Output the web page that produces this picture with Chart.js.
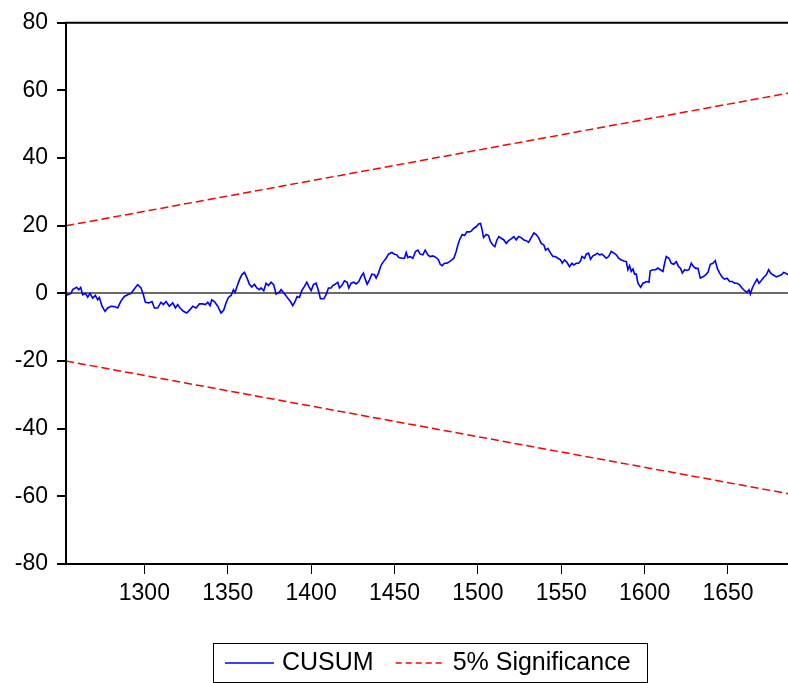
<!DOCTYPE html>
<html>
<head>
<meta charset="utf-8">
<title>CUSUM</title>
<script src="https://cdn.jsdelivr.net/npm/chart.js@4.4.1/dist/chart.umd.min.js"></script>
<style>
  html, body { margin: 0; padding: 0; background: #fff; }
  canvas { display: block; }
</style>
</head>
<body>
<canvas id="cusumChart" width="788" height="683"></canvas>
<script>
const cusumObs = [
  1253, 1254, 1256, 1257, 1259.4, 1260.6, 1261.8, 1263, 1264.6, 1266, 1267.4, 1269, 1270.6, 1272, 1273,
  1274.6, 1276.4, 1278, 1280, 1282, 1284, 1286, 1288, 1290, 1292, 1293.6, 1296, 1298, 1299.4, 1300.6,
  1302.6, 1304.6, 1306, 1308, 1310, 1311.4, 1313, 1315, 1317, 1318.6, 1320, 1321.4, 1323.4, 1325.4,
  1327.4, 1329, 1331, 1333, 1335, 1336.6, 1338, 1339.4, 1340.4, 1342, 1344, 1346, 1347.6, 1349, 1350.4,
  1352, 1353.4, 1354.4, 1355.6, 1357, 1358.4, 1360, 1361.6, 1363, 1364.4, 1366, 1367.4, 1369, 1370,
  1371.6, 1373, 1374.4, 1376, 1377.6, 1379, 1381, 1382, 1384, 1386, 1387.6, 1389, 1390.4, 1391.6, 1393,
  1394.4, 1396, 1397.4, 1398.6, 1400, 1401.4, 1403, 1404.4, 1405.6, 1407.6, 1409, 1410.4, 1412, 1413,
  1414.4, 1416, 1417, 1418.4, 1420, 1421.6, 1422.6, 1424, 1425.6, 1427, 1428.6, 1430, 1431.4, 1432.6,
  1433.6, 1435, 1436.4, 1438, 1439, 1440.4, 1442, 1443.4, 1445, 1446.4, 1448.4, 1450, 1451.4, 1452.6,
  1454.6, 1456, 1457, 1458, 1459.4, 1461, 1462.6, 1464, 1465.4, 1467, 1468.4, 1470, 1471.4, 1473, 1475,
  1476.4, 1477.4, 1478.6, 1480, 1481.4, 1483, 1484.4, 1485.6, 1487, 1488, 1489, 1490.6, 1492, 1493.4,
  1495, 1496, 1497.4, 1499, 1500.6, 1501.6, 1502.6, 1503.4, 1505, 1506.4, 1507.6, 1509, 1510.2, 1511.4,
  1512.6, 1514, 1515.6, 1517, 1518.4, 1520, 1521.6, 1523, 1524.4, 1526, 1527.6, 1529, 1530.4, 1532,
  1533.6, 1535, 1536.4, 1538, 1539.6, 1540.6, 1542, 1543.6, 1545, 1546.4, 1548, 1549.6, 1550.6, 1552,
  1553.4, 1555, 1556.4, 1557.6, 1559, 1560.4, 1561.6, 1562.4, 1564, 1565, 1566.4, 1567.6, 1569, 1570.4,
  1571.6, 1573, 1574.4, 1575.6, 1577, 1578.4, 1580, 1581.6, 1583, 1584.4, 1586, 1587.6, 1589, 1590,
  1591, 1592, 1593, 1594, 1595, 1596, 1597.6, 1599, 1600.4, 1601, 1602.6, 1603.4, 1605, 1606.6, 1608,
  1609.4, 1611, 1612, 1613, 1614.6, 1616, 1617.4, 1619, 1620.4, 1621.6, 1622.6, 1624, 1625.4, 1626.6,
  1628, 1629.4, 1630.6, 1632, 1633.4, 1635, 1636.6, 1638, 1639.4, 1641, 1642.4, 1643.6, 1645, 1646.6,
  1648, 1649.4, 1651, 1652.6, 1654, 1655.4, 1657, 1658.4, 1660, 1661.4, 1662.6, 1663.4, 1664.6, 1666,
  1667.4, 1668.6, 1670, 1671.4, 1673, 1674.4, 1675.6, 1677, 1679, 1680.6, 1682, 1683.4, 1684.6, 1686
];
const cusumVal = [
  0, -0.4, 0, 1.1, 1.8, 1.1, 1.8, -0.4, 0, -1.1, 0, -1.4, -0.6, -1.9, -1.2,
  -3.8, -5.3, -4.3, -3.8, -3.9, -4.3, -2.2, -0.9, -0.4, 0, 1.1, 2.6, 1.6, -0.4, -2.6,
  -2.8, -2.4, -4.3, -4.3, -2.6, -3.3, -2.4, -3.8, -2.8, -4.3, -3.3, -4.3, -5.3, -5.8,
  -4.8, -3.8, -4.3, -3.1, -3.1, -3.3, -2.6, -3.6, -1.9, -2.4, -3.8, -5.8, -4.9, -2.8, -1.2,
  -0.6, 1.1, 0.3, 2.1, 4.0, 5.5, 6.2, 4.5, 2.7, 1.9, 2.7, 1.6, 1.1, 1.6,
  0.8, 3.0, 2.3, 3.3, 2.5, -0.2, 0.4, 1.1, -0.1, -1.4, -2.4, -3.6, -2.4, -0.9, -1.2,
  0.8, 2.1, 3.3, 2.1, 0.8, 2.6, 3.0, 0.8, -1.6, -1.6, -0.4, 1.6, 1.6, 2.3,
  2.7, 3.3, 1.6, 2.3, 3.7, 3.3, 1.6, 3.0, 3.3, 2.8, 3.5, 5.0, 6.0, 4.0,
  2.7, 4.0, 5.7, 5.5, 4.5, 6.0, 8.4, 9.4, 10.4, 11.6, 12.1, 11.6, 11.4, 10.6,
  10.4, 10.4, 12.1, 10.6, 10.9, 10.4, 12.4, 12.8, 11.6, 11.4, 12.8, 11.4, 10.9, 11.1, 10.6,
  9.9, 8.6, 8.2, 8.9, 8.9, 9.4, 9.9, 10.4, 12.4, 14.3, 15.8, 17.4, 17.1, 18.2,
  18.2, 18.4, 19.2, 19.7, 20.6, 20.7, 18.7, 16.5, 17.4, 17.1, 15.3, 14.3, 13.8, 15.8,
  16.8, 16.3, 15.8, 14.8, 15.6, 16.1, 16.8, 15.8, 16.8, 16.5, 15.8, 15.6, 15.1, 16.5,
  17.9, 17.4, 16.5, 14.8, 14.3, 12.8, 13.3, 11.9, 10.9, 10.9, 10.4, 9.9, 8.9, 9.9,
  9.2, 7.9, 8.9, 8.4, 8.9, 8.9, 9.6, 10.9, 10.4, 11.6, 11.9, 10.1, 11.1, 11.4,
  11.9, 11.4, 11.6, 11.1, 10.4, 10.9, 12.4, 11.9, 11.4, 10.4, 9.9, 9.6, 9.4, 7.0,
  8.2, 6.5, 7.2, 5.7, 5.7, 3.0, 1.8, 3.0, 3.3, 3.5, 3.3, 6.7, 7.0, 7.0, 7.5,
  7.0, 6.5, 8.9, 10.9, 10.4, 8.9, 8.6, 9.4, 7.9, 7.4, 6.0, 7.0, 6.8, 7.0,
  8.9, 7.9, 7.4, 7.4, 4.5, 4.9, 5.5, 6.2, 8.6, 8.9, 9.7, 7.4, 6.0, 4.7,
  4.2, 4.5, 3.5, 3.5, 3.0, 3.0, 2.5, 1.6, 0.8, 0.3, 1.1, -0.2, 1.6, 3.0,
  4.2, 3.0, 3.8, 4.7, 5.5, 7.0, 6.0, 5.5, 4.9, 5.2, 5.5, 6.2, 6.0, 5.5
];

// 5% significance bounds (straight lines)
const boundObs = [1253, 1686];
const upperBound = [20, 59.2];
const lowerBound = [-20, -59.2];

const yTicks = [-80, -60, -40, -20, 0, 20, 40, 60, 80];
const xTicks = [1300, 1350, 1400, 1450, 1500, 1550, 1600, 1650];

const legendItems = [
  { text: 'CUSUM', color: '#0000ff', dash: [] },
  { text: '5% Significance', color: '#ff0000', dash: [6, 4] }
];

function pairs(xs, ys) {
  return xs.map(function(x, i) { return { x: x, y: ys[i] }; });
}

const fontFam = '"Liberation Sans", Arial, sans-serif';

// frame (top, left, bottom) and boxed legend
const framePlugin = {
  id: 'frame',
  afterDraw: function(chart) {
    const ctx = chart.ctx;
    const a = chart.chartArea;
    ctx.save();
    ctx.strokeStyle = '#000';
    ctx.lineWidth = 2;
    ctx.beginPath();
    ctx.moveTo(a.right + 2, a.top);
    ctx.lineTo(a.left, a.top);
    ctx.lineTo(a.left, a.bottom);
    ctx.lineTo(a.right + 2, a.bottom);
    ctx.stroke();

    // legend box
    const bx = 213, by = 643, bw = 434, bh = 39;
    ctx.lineWidth = 1;
    ctx.strokeRect(bx + 0.5, by + 0.5, bw, bh);
    ctx.font = '25px ' + fontFam;
    ctx.textBaseline = 'middle';
    ctx.fillStyle = '#000';
    const cy = by + 20;
    let x = bx + 12;
    legendItems.forEach(function(it) {
      ctx.strokeStyle = it.color;
      ctx.lineWidth = 1.5;
      ctx.setLineDash(it.dash);
      ctx.beginPath();
      ctx.moveTo(x, cy);
      ctx.lineTo(x + 49, cy);
      ctx.stroke();
      ctx.setLineDash([]);
      ctx.fillText(it.text, x + 57, cy);
      x += 57 + ctx.measureText(it.text).width + 22;
    });
    ctx.restore();
  }
};

const ctx = document.getElementById('cusumChart').getContext('2d');
new Chart(ctx, {
  type: 'line',
  data: {
    datasets: [
      {
        label: 'CUSUM',
        data: pairs(cusumObs, cusumVal),
        borderColor: '#0000ff',
        borderWidth: 1.6,
        pointRadius: 0,
        tension: 0,
        fill: false
      },
      {
        label: '5% Significance',
        data: pairs(boundObs, upperBound),
        borderColor: '#ff0000',
        borderWidth: 1.5,
        borderDash: [8, 4],
        pointRadius: 0,
        fill: false
      },
      {
        label: 'lower',
        data: pairs(boundObs, lowerBound),
        borderColor: '#ff0000',
        borderWidth: 1.5,
        borderDash: [8, 4],
        pointRadius: 0,
        fill: false
      }
    ]
  },
  options: {
    responsive: false,
    animation: false,
    devicePixelRatio: 1,
    layout: { padding: { top: 20, right: 0, bottom: 61, left: 0 } },
    plugins: {
      legend: { display: false },
      tooltip: { enabled: false }
    },
    scales: {
      x: {
        type: 'linear',
        min: 1253,
        max: 1686,
        afterFit: function(s) { s.height = 58; },
        afterBuildTicks: function(s) { s.ticks = xTicks.map(function(v) { return { value: v }; }); },
        grid: { drawOnChartArea: false, tickLength: 10, tickColor: '#000', color: '#000' },
        border: { display: false },
        ticks: {
          color: '#000', padding: 6, maxRotation: 0,
          font: { size: 23, family: fontFam },
          callback: function(v) { return String(v); }
        }
      },
      y: {
        min: -80,
        max: 80,
        afterFit: function(s) { s.width = 66; },
        afterBuildTicks: function(s) { s.ticks = yTicks.map(function(v) { return { value: v }; }); },
        grid: {
          tickLength: 9,
          tickColor: '#000',
          lineWidth: 2,
          color: function(c) { return c.tick && c.tick.value === 0 ? '#6a6a6a' : 'rgba(0,0,0,0)'; }
        },
        border: { display: false },
        ticks: {
          color: '#000', padding: 9,
          font: { size: 23, family: fontFam },
          callback: function(v) { return String(v); }
        }
      }
    }
  },
  plugins: [framePlugin]
});
</script>
</body>
</html>
